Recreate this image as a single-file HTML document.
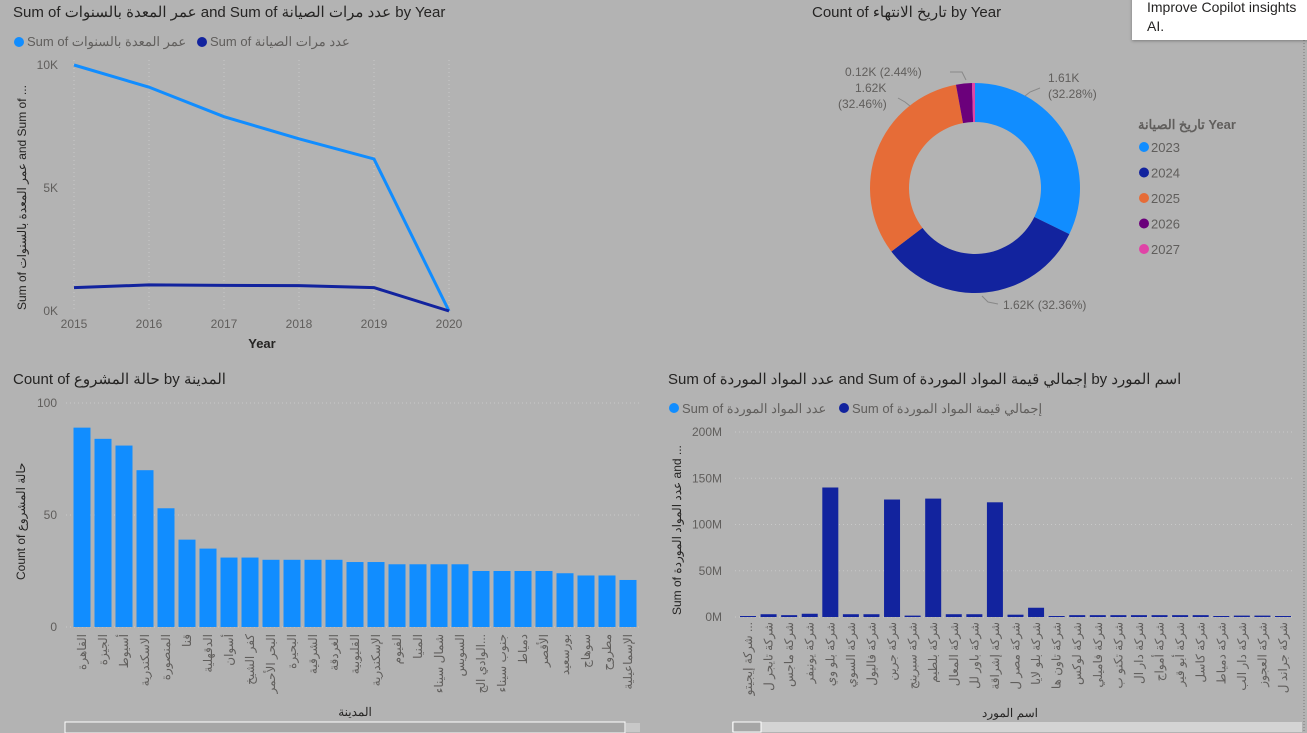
<!DOCTYPE html>
<html><head><meta charset="utf-8">
<style>
body{margin:0;background:#b3b3b3;width:1307px;height:733px;overflow:hidden;font-family:"Liberation Sans","Noto Sans CJK SC",sans-serif;}
svg{position:absolute;left:0;top:0}
text{font-family:"Liberation Sans","Noto Sans CJK SC",sans-serif}
.popup{position:absolute;left:1132px;top:-4px;width:180px;height:44px;background:#fff;box-shadow:0 1px 3px rgba(0,0,0,.3);font-size:14px;color:#252423;padding:2px 0 0 15px;box-sizing:border-box;line-height:19px;white-space:nowrap;overflow:hidden}
</style></head><body>
<svg id="s" width="1307" height="733"></svg>
<div class="popup">Improve Copilot insights<br>AI.</div>
<script>
const years=[2015,2016,2017,2018,2019,2020];
const ageSum=[10000,9100,7900,7000,6180,0];
const maintSum=[950,1060,1040,1030,950,0];
const yTicks1=[0,5000,10000];
const tickLabels1=['0K','5K','10K'];
const donutYears=['2023','2024','2025','2026','2027'];
const donutVals=[1610,1620,1620,122,23];
const cities=['القاهرة','الجيزة','أسيوط','الاسكندرية','المنصورة','قنا','الدقهلية','أسوان','كفر الشيخ','البحر الأحمر','البحيرة','الشرقية','الغردقة','القليوبية','الإسكندرية','الفيوم','المنيا','شمال سيناء','السويس','الوادي الج...','جنوب سيناء','دمياط','الأقصر','بورسعيد','سوهاج','مطروح','الإسماعيلية'];
const cityCounts=[89,84,81,70,53,39,35,31,31,30,30,30,30,29,29,28,28,28,28,25,25,25,25,24,23,23,21];
const yTicks3=[0,50,100];
const suppliers=['شركة إيجيتو ...','شركة تايجر ل','شركة ماجس','شركة يونيفر','شركة بلو وي','شركة السوي','شركة فاليول','شركة جرين','شركة سبرينج','شركة بلطيم','شركة المعال','شركة باور لل','شركة إشراقة','شركة مصر ل','شركة بلو لايا','شركة تاون ها','شركة لوكس','شركة فاميلي','شركة تكنو ب','شركة دار ال','شركة أمواج','شركة أبو قير','شركة كاسل','شركة دمياط','شركة دار الب','شركة العجوز','شركة جراند ل'];
const supplierValue=[1,3,2,3.5,140,3,3,127,1.5,128,3,3,124,2.5,10,1,2,2,2,2,2,2,2,0.5,1.5,1.5,0.5];
const yTicks4=[0,50,100,150,200];

const S=document.getElementById('s');const NS='http://www.w3.org/2000/svg';
function el(t,a,txt){const e=document.createElementNS(NS,t);for(const k in a)e.setAttribute(k,a[k]);if(txt!==undefined)e.textContent=txt;S.appendChild(e);return e;}
function tx(x,y,s,o,name){o=o||{};const e=el('text',Object.assign({x:x,y:y,'font-size':o.fs||12,fill:o.fill||'#605e5c'},o.attr||{}),s);

return e;}

// ---------- Chart 1 line ----------
tx(13,17,'Sum of عمر المعدة بالسنوات and Sum of عدد مرات الصيانة by Year',{fs:15,fill:'#252423'},'line-chart-title');
el('circle',{cx:19,cy:42,r:5,fill:'#118dff'});
tx(27,46,'Sum of عمر المعدة بالسنوات',{fs:13},'legend-entry-age');
el('circle',{cx:202,cy:42,r:5,fill:'#12239e'});
tx(210,46,'Sum of عدد مرات الصيانة',{fs:13},'legend-entry-maintenance');
const x1=v=>74+(v-2015)*(449-74)/5, y1=v=>311-v*(311-65)/10000;
yTicks1.forEach((t,i)=>{tx(58,y1(t)+4,tickLabels1[i],{attr:{'text-anchor':'end'}},'y-tick');});
years.forEach(y=>{el('line',{x1:x1(y),x2:x1(y),y1:60,y2:311,stroke:'#c8c8c8','stroke-dasharray':'1,3'});tx(x1(y),328,String(y),{attr:{'text-anchor':'middle'}},'x-tick');});
tx(262,348,'Year',{fs:13,fill:'#252423',attr:{'text-anchor':'middle','font-weight':'bold'}},'x-axis-title');
tx(0,0,'Sum of عمر المعدة بالسنوات and Sum of ...',{fs:12,fill:'#252423',attr:{transform:'translate(26,310) rotate(-90)'}},'y-axis-title');
[[ageSum,'#118dff','line-age'],[maintSum,'#12239e','line-maintenance']].forEach(([d,c,n])=>{const p=el('polyline',{points:d.map((v,i)=>x1(years[i])+','+y1(v)).join(' '),fill:'none',stroke:c,'stroke-width':3});

});

// ---------- Chart 2 donut ----------
tx(812,17,'Count of تاريخ الانتهاء by Year',{fs:15,fill:'#252423'},'donut-title');
const cols=['#118dff','#12239e','#e66c37','#6b007b','#e044a7'];
const tot=donutVals.reduce((a,b)=>a+b,0);const cx=975,cy=188,R=105,r=66;let a0=0;
donutVals.forEach((v,i)=>{const a1=a0+v/tot*2*Math.PI;const P=(rad,a)=>[cx+rad*Math.sin(a),cy-rad*Math.cos(a)];
const [x0,y0]=P(R,a0),[xa,ya]=P(R,a1),[xb,yb]=P(r,a1),[xc,yc]=P(r,a0);const lg=(a1-a0)>Math.PI?1:0;
const p=el('path',{d:`M${x0},${y0}A${R},${R} 0 ${lg} 1 ${xa},${ya}L${xb},${yb}A${r},${r} 0 ${lg} 0 ${xc},${yc}Z`,fill:cols[i]});

a0=a1;});
tx(1048,82,'1.61K',{},'donut-label');tx(1048,98,'(32.28%)',{},'donut-label');
tx(1003,309,'1.62K (32.36%)',{},'donut-label');
tx(855,92,'1.62K',{},'donut-label');tx(838,108,'(32.46%)',{},'donut-label');
tx(845,76,'0.12K (2.44%)',{},'donut-label');
el('polyline',{points:'1040,88 1030,92 1025,96',fill:'none',stroke:'#888'});
el('polyline',{points:'898,98 905,102 910,106',fill:'none',stroke:'#888'});
el('polyline',{points:'950,72 962,72 966,80',fill:'none',stroke:'#888'});
el('polyline',{points:'982,296 988,302 998,304',fill:'none',stroke:'#888'});
tx(1138,129,'تاريخ الصيانة Year',{fs:13,fill:'#605e5c',attr:{'font-weight':'bold'}},'donut-legend-title');
donutYears.forEach((y,i)=>{el('circle',{cx:1144,cy:147+i*25.5,r:5,fill:cols[i]});tx(1151,152+i*25.5,y,{fs:13},'donut-legend-entry');});
el('line',{x1:1304,x2:1304,y1:40,y2:733,stroke:'#777','stroke-dasharray':'1,2'});

// ---------- Chart 3 bars ----------
tx(13,384,'Count of حالة المشروع by المدينة',{fs:15,fill:'#252423'},'bar-chart-title');
const y3=v=>627-v*2.24;const step3=(620-74)/26;
yTicks3.forEach(t=>{tx(57,y3(t)+4,String(t),{attr:{'text-anchor':'end'}},'y-tick');el('line',{x1:66,x2:640,y1:y3(t),y2:y3(t),stroke:'#c8c8c8','stroke-dasharray':'1,3'});});
tx(0,0,'Count of حالة المشروع',{fs:12,fill:'#252423',attr:{transform:'translate(25,580) rotate(-90)'}},'y-axis-title');
cities.forEach((c,i)=>{const cxp=82+i*step3;const b=el('rect',{x:cxp-8.5,y:y3(cityCounts[i]),width:17,height:cityCounts[i]*2.24,fill:'#118dff'});


tx(0,0,c,{fs:12,attr:{transform:`translate(${cxp+4},634) rotate(-90)`,'text-anchor':'end'}},'x-tick');});
tx(355,716,'المدينة',{fs:12,fill:'#252423',attr:{'text-anchor':'middle'}},'x-axis-title');
el('rect',{x:65,y:722,width:560,height:11,fill:'#a6a6a6',stroke:'#fff'});
el('rect',{x:626,y:723,width:14,height:9,fill:'#c8c8c8'});

// ---------- Chart 4 bars ----------
tx(668,384,'Sum of عدد المواد الموردة and Sum of إجمالي قيمة المواد الموردة by اسم المورد',{fs:15,fill:'#252423'},'supplier-chart-title');
el('circle',{cx:674,cy:408,r:5,fill:'#118dff'});tx(682,413,'Sum of عدد المواد الموردة',{fs:13},'legend-entry-count');
el('circle',{cx:844,cy:408,r:5,fill:'#12239e'});tx(852,413,'Sum of إجمالي قيمة المواد الموردة',{fs:13},'legend-entry-value');
const y4=v=>617-v*0.925;const step4=(1283-748)/26;
yTicks4.forEach(t=>{tx(722,y4(t)+4,t+'M',{attr:{'text-anchor':'end'}},'y-tick');el('line',{x1:735,x2:1295,y1:y4(t),y2:y4(t),stroke:'#c8c8c8','stroke-dasharray':'1,3'});});
tx(0,0,'Sum of عدد المواد الموردة and ...',{fs:12,fill:'#252423',attr:{transform:'translate(681,615) rotate(-90)'}},'y-axis-title');
suppliers.forEach((c,i)=>{const cxp=748+i*step4;const h=Math.max(1,supplierValue[i]*0.925);const b=el('rect',{x:cxp-8,y:617-h,width:16,height:h,fill:'#12239e'});


tx(0,0,c,{fs:12,attr:{transform:`translate(${cxp+4},622) rotate(-90)`,'text-anchor':'end'}},'x-tick');});
tx(1010,717,'اسم المورد',{fs:12,fill:'#252423',attr:{'text-anchor':'middle'}},'x-axis-title');
el('rect',{x:732,y:722,width:570,height:10,fill:'#d4d4d4'});
el('rect',{x:733,y:722,width:28,height:10,fill:'#a6a6a6',stroke:'#fff'});
</script>
</body></html>
